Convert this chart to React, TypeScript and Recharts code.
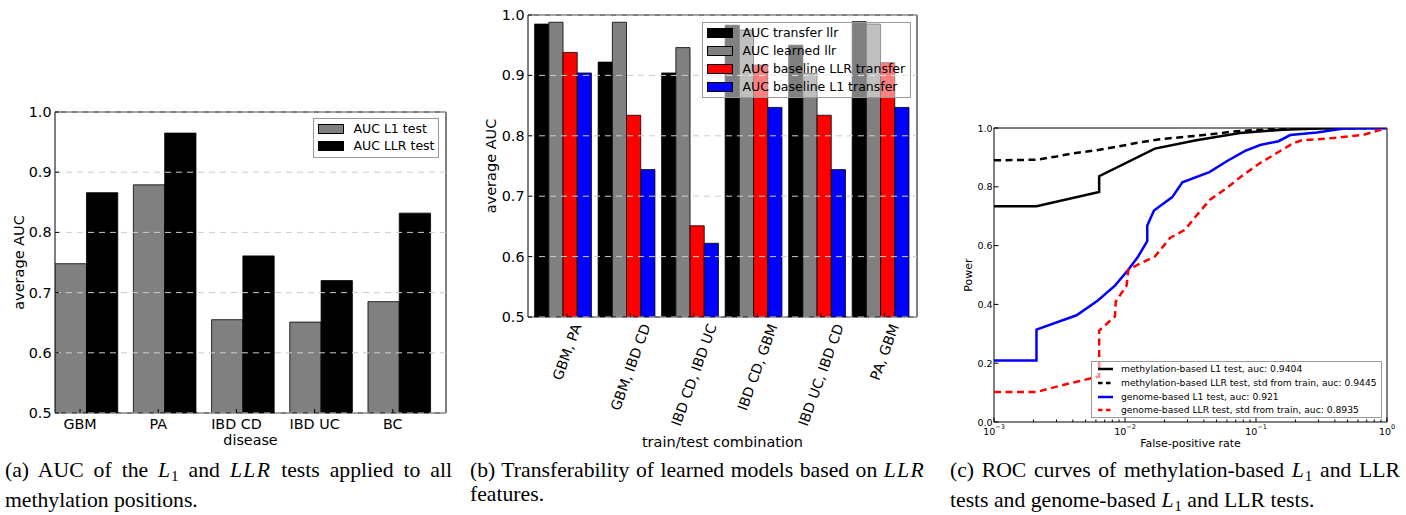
import React from 'react';
import { BarChart, Bar, LineChart, Line, XAxis, YAxis, ReferenceLine, ReferenceArea, Legend } from 'recharts';

const FONT = '"DejaVu Sans", sans-serif';
const SERIF = '"Liberation Serif", "Times New Roman", serif';

// ---------------- (a) AUC per disease ----------------
const diseases = ['GBM', 'PA', 'IBD CD', 'IBD UC', 'BC'];
const aucL1Test = [0.748, 0.879, 0.655, 0.651, 0.685];
const aucLLRTest = [0.866, 0.965, 0.761, 0.72, 0.832];
const aucTicks = [0.5, 0.6, 0.7, 0.8, 0.9, 1.0];
const aSeriesNames = ['AUC L1 test', 'AUC LLR test'];
const aSeriesColors = ['#808080', '#000000'];

// ---------------- (b) transferability ----------------
const combos = ['GBM, PA', 'GBM, IBD CD', 'IBD CD, IBD UC', 'IBD CD, GBM', 'IBD UC, IBD CD', 'PA, GBM'];
const aucTransferLlr = [0.985, 0.922, 0.904, 0.983, 0.95, 0.989];
const aucLearnedLlr = [0.988, 0.988, 0.946, 0.975, 0.903, 0.985];
const aucBaselineLLRTransfer = [0.938, 0.834, 0.651, 0.917, 0.834, 0.921];
const aucBaselineL1Transfer = [0.904, 0.744, 0.622, 0.847, 0.744, 0.847];
const bSeriesNames = ['AUC transfer llr', 'AUC learned llr', 'AUC baseline LLR transfer', 'AUC baseline L1 transfer'];
const bSeriesColors = ['#000000', '#808080', '#ff0000', '#0000ff'];

// ---------------- (c) ROC curves ----------------
const methL1Fpr = [0.001, 0.00211, 0.00635, 0.00635, 0.0169, 0.035, 0.0755, 0.161, 0.3, 1];
const methL1Pow = [0.734, 0.734, 0.782, 0.836, 0.93, 0.958, 0.983, 0.994, 0.998, 1.0];
const methLLRFpr = [0.001, 0.0021, 0.003, 0.0038, 0.0064, 0.013, 0.0185, 0.042, 0.067, 0.13, 0.3, 1];
const methLLRPow = [0.89, 0.892, 0.903, 0.912, 0.926, 0.951, 0.962, 0.977, 0.988, 0.996, 0.999, 1.0];
const genL1Fpr = [0.001, 0.00211, 0.00211, 0.00427, 0.00624, 0.00838, 0.0106, 0.0126, 0.01479, 0.01479, 0.01664, 0.02296, 0.02741, 0.0441, 0.0598, 0.0826, 0.1076, 0.1486, 0.1825, 0.2917, 0.467, 1];
const genL1Pow = [0.209, 0.209, 0.314, 0.363, 0.414, 0.464, 0.518, 0.563, 0.615, 0.668, 0.719, 0.765, 0.815, 0.85, 0.887, 0.922, 0.942, 0.955, 0.976, 0.985, 0.998, 1.0];
const genLLRFpr = [0.001, 0.00211, 0.00337, 0.00635, 0.00635, 0.00838, 0.0085, 0.01028, 0.0106, 0.01299, 0.01694, 0.02203, 0.0287, 0.0352, 0.0446, 0.0598, 0.0802, 0.1076, 0.1443, 0.1935, 0.224, 0.391, 0.664, 1];
const genLLRPow = [0.102, 0.102, 0.126, 0.155, 0.311, 0.359, 0.41, 0.464, 0.518, 0.539, 0.563, 0.626, 0.654, 0.703, 0.756, 0.796, 0.841, 0.881, 0.915, 0.949, 0.958, 0.966, 0.977, 1.0];
const rocNames = [
  'methylation-based L1 test, auc: 0.9404',
  'methylation-based LLR test, std from train, auc: 0.9445',
  'genome-based L1 test, auc: 0.921',
  'genome-based LLR test, std from train, auc: 0.8935',
];
const rocColors = ['#000000', '#000000', '#0000ff', '#ff0000'];
const rocDashes = ['', '7 4.5', '', '7 4.5'];
const rocYTicks = [0, 0.2, 0.4, 0.6, 0.8, 1.0];
const rocXMajor = [0.001, 0.01, 0.1, 1];
const rocXExp = ['−3', '−2', '−1', '0'];
const rocXMinorMult = [2, 3, 4, 5, 6, 7, 8, 9];

// ---------------- data tables ----------------
const aTickPos = diseases.map((_, i) => i + 0.32);
const dataA = diseases.map((d, i) => ({ x: i + 0.4, name: d, l1: aucL1Test[i], llr: aucLLRTest[i] }));
const bTickPos = combos.map((_, i) => i + 0.055);
const dataB = combos.map((c, i) => ({
  x: i,
  name: c,
  t: aucTransferLlr[i],
  l: aucLearnedLlr[i],
  bl: aucBaselineLLRTransfer[i],
  b1: aucBaselineL1Transfer[i],
}));
const zipXY = (xs: number[], ys: number[]) => xs.map((x, i) => ({ x, y: ys[i] }));
const rocData = [zipXY(methL1Fpr, methL1Pow), zipXY(methLLRFpr, methLLRPow), zipXY(genL1Fpr, genL1Pow), zipXY(genLLRFpr, genLLRPow)];
const rocXTicks: number[] = [];
rocXMajor.forEach((m, i) => {
  rocXTicks.push(m);
  if (i < rocXMajor.length - 1) rocXMinorMult.forEach((k) => rocXTicks.push(m * k));
});
const isMajor = (v: number) => rocXMajor.some((m) => Math.abs(Math.log10(v) - Math.log10(m)) < 1e-6);

// ---------------- helpers ----------------
let _ctx: CanvasRenderingContext2D | null = null;
const textWidth = (s: string, font: string) => {
  if (typeof document === 'undefined') return s.length * 8;
  if (!_ctx) _ctx = document.createElement('canvas').getContext('2d');
  if (!_ctx) return s.length * 8;
  _ctx.font = font;
  return _ctx.measureText(s).width;
};

const leftTick = (fs: number, len: number, gap: number, fmt: (v: number) => string) => (p: any) => (
  <g>
    <line x1={p.x} x2={p.x + len} y1={p.y} y2={p.y} stroke="#000" strokeWidth={1} />
    <text x={p.x - gap} y={p.y} textAnchor="end" dominantBaseline="central" fontSize={fs} fontFamily={FONT} fill="#000">
      {fmt(p.payload.value)}
    </text>
  </g>
);
const rightTick = (len: number) => (p: any) => (
  <line x1={p.x} x2={p.x - len} y1={p.y} y2={p.y} stroke="#000" strokeWidth={1} />
);
const topTick = (lenFn: (v: number) => number) => (p: any) => (
  <line x1={p.x} x2={p.x} y1={p.y} y2={p.y + lenFn(p.payload.value)} stroke="#000" strokeWidth={1} />
);

const ATick = (p: any) => {
  const idx = Math.round(p.payload.value - 0.32);
  return (
    <g>
      <line x1={p.x} x2={p.x} y1={p.y} y2={p.y - 4} stroke="#000" strokeWidth={1} />
      <text x={p.x} y={p.y + 10.5} textAnchor="middle" dominantBaseline="central" fontSize={14.3} fontFamily={FONT} fill="#000">
        {diseases[idx]}
      </text>
    </g>
  );
};

const BTick = (p: any) => {
  const idx = Math.round(p.payload.value - 0.055);
  const label = combos[idx] || '';
  const fs = 14;
  const w = textWidth(label, `${fs}px "DejaVu Sans"`);
  const h = fs * 1.0;
  const ang = (70 * Math.PI) / 180;
  const bh = w * Math.sin(ang) + h * Math.cos(ang);
  const cx = p.x;
  const cy = p.y + 5 + bh / 2;
  return (
    <g>
      <line x1={p.x} x2={p.x} y1={p.y} y2={p.y - 4} stroke="#000" strokeWidth={1} />
      <text
        x={cx}
        y={cy}
        textAnchor="middle"
        dominantBaseline="central"
        fontSize={fs}
        fontFamily={FONT}
        fill="#000"
        transform={`rotate(-70, ${cx}, ${cy})`}
      >
        {label}
      </text>
    </g>
  );
};

const CTick = (p: any) => {
  const v = p.payload.value;
  const major = isMajor(v);
  const mi = rocXMajor.findIndex((m) => Math.abs(Math.log10(v) - Math.log10(m)) < 1e-6);
  return (
    <g>
      <line x1={p.x} x2={p.x} y1={p.y} y2={p.y - (major ? 4.5 : 2.5)} stroke="#000" strokeWidth={1} />
      {major && (
        <text x={p.x} y={p.y + 8.5} textAnchor="middle" dominantBaseline="central" fontSize={9.5} fontFamily={FONT} fill="#000">
          <tspan>10</tspan>
          <tspan dy={-4} fontSize={6.5}>
            {rocXExp[mi]}
          </tspan>
        </text>
      )}
    </g>
  );
};

const xTitle = (text: string, dy: number, fs: number) => ({
  content: (props: any) => {
    const vb = props.viewBox || { x: 0, y: 0, width: 0, height: 0 };
    return (
      <text x={vb.x + vb.width / 2} y={vb.y + dy} textAnchor="middle" dominantBaseline="central" fontSize={fs} fontFamily={FONT} fill="#000">
        {text}
      </text>
    );
  },
});
const yTitle = (text: string, cxAbs: number, fs: number) => ({
  content: (props: any) => {
    const vb = props.viewBox || { x: 0, y: 0, width: 0, height: 0 };
    const cy = vb.y + vb.height / 2;
    return (
      <text
        x={cxAbs}
        y={cy}
        textAnchor="middle"
        dominantBaseline="central"
        fontSize={fs}
        fontFamily={FONT}
        fill="#000"
        transform={`rotate(-90, ${cxAbs}, ${cy})`}
      >
        {text}
      </text>
    );
  },
});

const PatchLegend = (props: {
  names: string[];
  colors: string[];
  width: number;
  height: number;
  rows: number[];
  bg: string;
  fs: number;
}) => (
  <div
    style={{
      position: 'relative',
      boxSizing: 'border-box',
      width: props.width,
      height: props.height,
      border: '1px solid #9a9a9a',
      background: props.bg,
      fontFamily: FONT,
      fontSize: props.fs,
      color: '#000',
    }}
  >
    {props.names.map((n, i) => (
      <div key={n} style={{ position: 'absolute', left: 0, top: props.rows[i] - 10, height: 20, width: '100%' }}>
        <div
          style={{
            position: 'absolute',
            left: 3.7,
            top: 5,
            width: 26.7,
            height: 10,
            boxSizing: 'border-box',
            background: props.colors[i],
            border: '1px solid #000',
          }}
        />
        <div style={{ position: 'absolute', left: 39.5, top: 0, lineHeight: '20px', whiteSpace: 'nowrap' }}>{n}</div>
      </div>
    ))}
  </div>
);

const RocLegend = () => (
  <div
    style={{
      position: 'relative',
      boxSizing: 'border-box',
      width: 291,
      height: 56.5,
      border: '1px solid #9a9a9a',
      background: 'rgba(255,255,255,0.55)',
      fontFamily: FONT,
      fontSize: 9.2,
      color: '#000',
    }}
  >
    {rocNames.map((n, i) => {
      const cy = 7.3 + i * 13.7;
      return (
        <div key={n} style={{ position: 'absolute', left: 0, top: cy - 7, height: 14, width: '100%' }}>
          <svg style={{ position: 'absolute', left: 4.7, top: 0 }} width={17} height={14}>
            <line x1={1} x2={16} y1={7} y2={7} stroke={rocColors[i]} strokeWidth={2.5} strokeDasharray={rocDashes[i] ? '4.5 3.5' : undefined} />
          </svg>
          <div style={{ position: 'absolute', left: 29, top: 0, lineHeight: '14px', whiteSpace: 'nowrap' }}>{n}</div>
        </div>
      );
    })}
  </div>
);

const gridLines = (vals: number[]) =>
  vals.map((v) => <ReferenceLine key={'g' + v} y={v} stroke="#cccccc" strokeWidth={1} strokeDasharray="6 5" />);

const Caption = (props: { left: number; width: number; ws?: number; line1: React.ReactNode; line2: React.ReactNode }) => (
  <div
    style={{
      position: 'absolute',
      left: props.left,
      top: 458,
      width: props.width,
      fontFamily: SERIF,
      fontSize: 21.7,
      lineHeight: '24px',
      color: '#000',
    }}
  >
    <div style={{ textAlign: 'justify', textAlignLast: 'justify', whiteSpace: 'nowrap', wordSpacing: props.ws || 0 }}>{props.line1}</div>
    <div style={{ textAlign: 'left', whiteSpace: 'nowrap' }}>{props.line2}</div>
  </div>
);

const L1 = () => (
  <span>
    <i style={{ letterSpacing: '0.04em' }}>L</i>
    <sub style={{ fontSize: '0.7em', verticalAlign: '-0.25em' }}>1</sub>
  </span>
);
const LLRi = () => <i style={{ letterSpacing: '0.06em' }}>LLR</i>;

export default function App() {
  return (
    <div style={{ position: 'absolute', left: 0, top: 0, width: 1406, height: 515, background: '#fff', overflow: 'hidden' }}>
      {/* (a) */}
      <div style={{ position: 'absolute', left: 0, top: 0 }}>
        <BarChart width={470} height={460} data={dataA} margin={{ top: 112, right: 24, bottom: 7, left: 0 }} barGap={0}>
          <XAxis
            dataKey="x"
            type="number"
            domain={[0, 5]}
            allowDataOverflow
            ticks={aTickPos}
            interval={0}
            axisLine={false}
            tickLine={false}
            tickSize={0}
            tickMargin={0}
            height={40}
            tick={ATick}
            label={xTitle('disease', 27, 14.3)}
          />
          <XAxis
            xAxisId="top"
            orientation="top"
            type="number"
            domain={[0, 5]}
            allowDataOverflow
            ticks={aTickPos}
            interval={0}
            axisLine={false}
            tickLine={false}
            tickSize={0}
            tickMargin={0}
            height={0}
            tick={topTick(() => 4)}
          />
          <YAxis
            type="number"
            domain={[0.5, 1]}
            allowDataOverflow
            ticks={aucTicks}
            interval={0}
            width={55}
            axisLine={false}
            tickLine={false}
            tickSize={0}
            tickMargin={0}
            tick={leftTick(14.3, 4, 3.5, (v) => v.toFixed(1))}
            label={yTitle('average AUC', 19, 14.5)}
          />
          <YAxis
            yAxisId="right"
            orientation="right"
            type="number"
            domain={[0.5, 1]}
            allowDataOverflow
            ticks={aucTicks}
            interval={0}
            width={0}
            axisLine={false}
            tickLine={false}
            tickSize={0}
            tickMargin={0}
            tick={rightTick(4)}
          />
          <ReferenceArea x1={0} x2={5} y1={0.5} y2={1} fill="none" fillOpacity={0} stroke="#000" strokeWidth={1} />
          <Bar dataKey="l1" name={aSeriesNames[0]} fill={aSeriesColors[0]} stroke="#000" strokeWidth={0.8} barSize={31.3} isAnimationActive={false} />
          <Bar dataKey="llr" name={aSeriesNames[1]} fill={aSeriesColors[1]} stroke="#000" strokeWidth={0.8} barSize={31.3} isAnimationActive={false} />
          {gridLines(aucTicks)}
          <Legend
            layout="horizontal"
            verticalAlign="middle"
            align="center"
            wrapperStyle={{ left: 313, top: 118, width: 126, height: 40 }}
            content={() => <PatchLegend names={aSeriesNames} colors={aSeriesColors} width={126} height={40} rows={[10.3, 27]} bg="#fff" fs={12.5} />}
          />
        </BarChart>
      </div>

      {/* (b) */}
      <div style={{ position: 'absolute', left: 470, top: 0 }}>
        <BarChart width={460} height={460} data={dataB} margin={{ top: 15, right: 13, bottom: 13, left: 0 }} barGap={0}>
          <XAxis
            dataKey="x"
            type="number"
            domain={[-0.557, 5.568]}
            allowDataOverflow
            ticks={bTickPos}
            interval={0}
            axisLine={false}
            tickLine={false}
            tickSize={0}
            tickMargin={0}
            height={130}
            tick={BTick}
            label={xTitle('train/test combination', 124.7, 14.5)}
          />
          <XAxis
            xAxisId="top"
            orientation="top"
            type="number"
            domain={[-0.557, 5.568]}
            allowDataOverflow
            ticks={bTickPos}
            interval={0}
            axisLine={false}
            tickLine={false}
            tickSize={0}
            tickMargin={0}
            height={0}
            tick={topTick(() => 4)}
          />
          <YAxis
            type="number"
            domain={[0.5, 1]}
            allowDataOverflow
            ticks={aucTicks}
            interval={0}
            width={58}
            axisLine={false}
            tickLine={false}
            tickSize={0}
            tickMargin={0}
            tick={leftTick(14.3, 4, 3.5, (v) => v.toFixed(1))}
            label={yTitle('average AUC', 20.7, 14.5)}
          />
          <YAxis
            yAxisId="right"
            orientation="right"
            type="number"
            domain={[0.5, 1]}
            allowDataOverflow
            ticks={aucTicks}
            interval={0}
            width={0}
            axisLine={false}
            tickLine={false}
            tickSize={0}
            tickMargin={0}
            tick={rightTick(4)}
          />
          <ReferenceArea x1={-0.557} x2={5.568} y1={0.5} y2={1} fill="none" fillOpacity={0} stroke="#000" strokeWidth={1} />
          <Bar dataKey="t" name={bSeriesNames[0]} fill={bSeriesColors[0]} stroke="#000" strokeWidth={0.8} barSize={14.2} isAnimationActive={false} />
          <Bar dataKey="l" name={bSeriesNames[1]} fill={bSeriesColors[1]} stroke="#000" strokeWidth={0.8} barSize={14.2} isAnimationActive={false} />
          <Bar dataKey="bl" name={bSeriesNames[2]} fill={bSeriesColors[2]} stroke="#000" strokeWidth={0.8} barSize={14.2} isAnimationActive={false} />
          <Bar dataKey="b1" name={bSeriesNames[3]} fill={bSeriesColors[3]} stroke="#000" strokeWidth={0.8} barSize={14.2} isAnimationActive={false} />
          {gridLines(aucTicks)}
          <Legend
            layout="horizontal"
            verticalAlign="middle"
            align="center"
            wrapperStyle={{ left: 232, top: 22, width: 209, height: 76 }}
            content={() => (
              <PatchLegend names={bSeriesNames} colors={bSeriesColors} width={209} height={76} rows={[10, 28, 46, 64]} bg="rgba(255,255,255,0.5)" fs={12.5} />
            )}
          />
        </BarChart>
      </div>

      {/* (c) */}
      <div style={{ position: 'absolute', left: 940, top: 0 }}>
        <LineChart width={466} height={460} margin={{ top: 128, right: 19, bottom: 8, left: 0 }}>
          <XAxis
            dataKey="x"
            type="number"
            scale="log"
            domain={[0.001, 1]}
            allowDataOverflow
            ticks={rocXTicks}
            interval={0}
            axisLine={false}
            tickLine={false}
            tickSize={0}
            tickMargin={0}
            height={30}
            tick={CTick}
            label={xTitle('False-positive rate', 21.7, 11)}
          />
          <XAxis
            xAxisId="top"
            orientation="top"
            type="number"
            scale="log"
            domain={[0.001, 1]}
            allowDataOverflow
            ticks={rocXTicks}
            interval={0}
            axisLine={false}
            tickLine={false}
            tickSize={0}
            tickMargin={0}
            height={0}
            tick={topTick((v) => (isMajor(v) ? 4.5 : 2.5))}
          />
          <YAxis
            type="number"
            domain={[0, 1]}
            allowDataOverflow
            ticks={rocYTicks}
            interval={0}
            width={54}
            axisLine={false}
            tickLine={false}
            tickSize={0}
            tickMargin={0}
            tick={leftTick(9.5, 4.5, 1.5, (v) => v.toFixed(1))}
            label={yTitle('Power', 28, 11)}
          />
          <YAxis
            yAxisId="right"
            orientation="right"
            type="number"
            domain={[0, 1]}
            allowDataOverflow
            ticks={rocYTicks}
            interval={0}
            width={0}
            axisLine={false}
            tickLine={false}
            tickSize={0}
            tickMargin={0}
            tick={rightTick(4.5)}
          />
          <ReferenceArea x1={0.001} x2={1} y1={0} y2={1} fill="none" fillOpacity={0} stroke="#000" strokeWidth={1} />
          {rocData.map((d, i) => (
            <Line
              key={rocNames[i]}
              data={d}
              dataKey="y"
              name={rocNames[i]}
              type="linear"
              stroke={rocColors[i]}
              strokeWidth={2.5}
              strokeDasharray={rocDashes[i] || undefined}
              dot={false}
              activeDot={false}
              isAnimationActive={false}
            />
          ))}
          <Legend
            layout="horizontal"
            verticalAlign="middle"
            align="center"
            wrapperStyle={{ left: 151, top: 361, width: 291, height: 56.5 }}
            content={() => <RocLegend />}
          />
        </LineChart>
      </div>

      {/* captions */}
      <Caption
        left={5}
        width={447}
        line1={
          <span>
            (a) AUC of the <L1 /> and <LLRi /> tests applied to all
          </span>
        }
        line2={<span>methylation positions.</span>}
      />
      <Caption
        left={470}
        width={455}
        ws={-1}
        line1={
          <span>
            (b) Transferability of learned models based on <LLRi />
          </span>
        }
        line2={<span>features.</span>}
      />
      <Caption
        left={950}
        width={450}
        line1={
          <span>
            (c) ROC curves of methylation-based <L1 /> and LLR
          </span>
        }
        line2={
          <span>
            tests and genome-based <L1 /> and LLR tests.
          </span>
        }
      />
    </div>
  );
}
